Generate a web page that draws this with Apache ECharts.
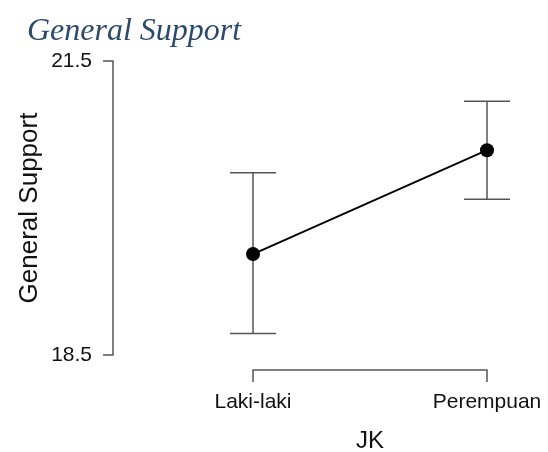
<!DOCTYPE html>
<html>
<head>
<meta charset="utf-8">
<script src="https://cdn.jsdelivr.net/npm/echarts@6/dist/echarts.min.js"></script>
<style>
html,body{margin:0;padding:0;background:#fff;}
#chart{width:548px;height:452px;}
</style>
</head>
<body>
<div id="chart"></div>
<script>
var categories = ['Laki-laki', 'Perempuan'];
var means = [19.53, 20.59];
var lower = [18.72, 20.09];
var upper = [20.36, 21.09];
var yTicks = [18.5, 21.5];

var chart = echarts.init(document.getElementById('chart'), null, {renderer: 'canvas'});
var errData = categories.map(function (c, i) { return [i, lower[i], upper[i]]; });

chart.setOption({
  animation: false,
  backgroundColor: '#ffffff',
  title: {
    text: 'General Support',
    left: 22,
    top: 11,
    textStyle: {
      fontFamily: 'Liberation Serif',
      fontStyle: 'italic',
      fontWeight: 'normal',
      fontSize: 32,
      color: '#2c4a6e'
    }
  },
  grid: { left: 253, right: 61, top: 61, bottom: 97, containLabel: false, outerBoundsMode: 'none' },
  xAxis: {
    type: 'category',
    data: categories,
    boundaryGap: false,
    offset: 15,
    axisLine: { show: true, lineStyle: { color: '#555555', width: 1.5 } },
    axisTick: { show: true, length: 12, lineStyle: { color: '#555555', width: 1.5 } },
    axisLabel: { margin: 22, fontFamily: 'Liberation Sans', fontSize: 21, color: '#111111' },
    splitLine: { show: false },
    name: 'JK',
    nameLocation: 'middle',
    nameGap: 59,
    nameTextStyle: { fontFamily: 'Liberation Sans', fontSize: 24, color: '#111111' }
  },
  yAxis: {
    type: 'value',
    min: yTicks[0],
    max: yTicks[1],
    interval: yTicks[1] - yTicks[0],
    offset: 140,
    axisLine: { show: true, lineStyle: { color: '#555555', width: 1.5 } },
    axisTick: { show: true, length: 10, lineStyle: { color: '#555555', width: 1.5 } },
    axisLabel: { margin: 21, fontFamily: 'Liberation Sans', fontSize: 21, color: '#111111',
      formatter: function (v) { return v.toFixed(1); } },
    splitLine: { show: false },
    name: 'General Support',
    nameLocation: 'middle',
    nameGap: 70,
    nameTextStyle: { fontFamily: 'Liberation Sans', fontSize: 26, color: '#111111' }
  },
  series: [
    {
      type: 'custom',
      data: errData,
      z: 2,
      renderItem: function (params, api) {
        var x = api.value(0);
        var lo = api.coord([x, api.value(1)]);
        var hi = api.coord([x, api.value(2)]);
        var hw = 23;
        var style = { stroke: '#555555', lineWidth: 1.5, fill: null };
        return {
          type: 'group',
          children: [
            { type: 'line', shape: { x1: lo[0], y1: lo[1], x2: hi[0], y2: hi[1] }, style: style },
            { type: 'line', shape: { x1: lo[0] - hw, y1: lo[1], x2: lo[0] + hw, y2: lo[1] }, style: style },
            { type: 'line', shape: { x1: hi[0] - hw, y1: hi[1], x2: hi[0] + hw, y2: hi[1] }, style: style }
          ]
        };
      }
    },
    {
      type: 'line',
      data: means,
      z: 3,
      symbol: 'circle',
      symbolSize: 14,
      itemStyle: { color: '#000000' },
      lineStyle: { color: '#000000', width: 2 }
    }
  ]
});
</script>
</body>
</html>
